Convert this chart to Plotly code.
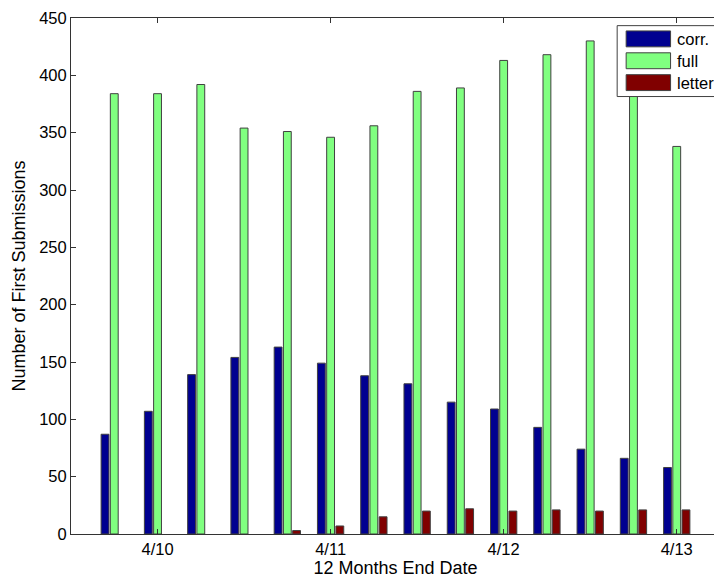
import plotly.graph_objects as go

groups = list(range(1, 15))
corr = [87, 107, 139, 154, 163, 149, 138, 131, 115, 109, 93, 74, 66, 58]
full = [384, 384, 392, 354, 351, 346, 356, 386, 389, 413, 418, 430, 395, 338]
letter = [None, None, None, None, 3, 7, 15, 20, 22, 20, 21, 20, 21, 21]
tick_pos = [2, 6, 10, 14]
tick_labels = ["4/10", "4/11", "4/12", "4/13"]
y_ticks = list(range(0, 451, 50))
series_names = ["corr.", "full", "letter"]
series_colors = ["#000090", "#80FF80", "#800000"]
series_values = [corr, full, letter]

# figure geometry (page has an 8px body margin)
W, H = 714, 575
L, R, T, B = 63, 1, 7, 49
PW, PH = W - L - R, H - T - B
OFF = 8


def px_x(sx):
    return (sx - OFF - L) / PW


def px_y(sy):
    return (H - B - (sy - OFF)) / PH


FAM = "Arial"
TXT = 15
TICK = 16.5
LEG = 16.5
font = dict(family=FAM, size=TXT, color="#000000")

fig = go.Figure()
for name, vals, col in zip(series_names, series_values, series_colors):
    fig.add_trace(go.Bar(x=groups, y=vals, name=name, showlegend=False,
                         marker=dict(color=col, line=dict(color="#404040", width=1))))

shapes = []
annotations = []
# legend box
shapes.append(dict(type="rect", xref="paper", yref="paper", x0=px_x(618), x1=px_x(721.5),
                   y0=px_y(94), y1=px_y(22.7), line=dict(color="#404040", width=1), fillcolor="white",
                   layer="above"))
patch_rows = [(28, 44), (50, 66), (72, 88)]
for (y0, y1), name, col in zip(patch_rows, series_names, series_colors):
    shapes.append(dict(type="rect", xref="paper", yref="paper", x0=px_x(627), x1=px_x(671.5),
                       y0=px_y(y1), y1=px_y(y0), line=dict(color="#404040", width=1), fillcolor=col,
                       layer="above"))
    annotations.append(dict(xref="paper", yref="paper", x=px_x(675.5), y=px_y((y0 + y1) / 2),
                            text=name, showarrow=False, xanchor="left", yanchor="middle",
                            font=dict(family=FAM, size=LEG, color="#000000")))

fig.update_layout(
    width=W, height=H,
    margin=dict(l=L, r=R, t=T, b=B),
    paper_bgcolor="white", plot_bgcolor="white",
    barmode="group", bargap=0.36, bargroupgap=0.15,
    font=font, showlegend=False,
    shapes=shapes, annotations=annotations,
    xaxis=dict(range=[0, 15], tickmode="array", tickvals=tick_pos, ticktext=tick_labels,
               showline=True, linecolor="#333333", mirror="ticks", ticks="inside", ticklen=5,
               tickcolor="#333333", showgrid=False, zeroline=False,
               title=dict(text="12 Months End Date", standoff=4),
               tickfont=dict(size=TICK)),
    yaxis=dict(range=[0, 450], tickvals=y_ticks, showline=True, linecolor="#333333", mirror="ticks",
               ticks="inside", ticklen=5, tickcolor="#333333", showgrid=False, zeroline=False,
               ticklabeloverflow="allow",
               title=dict(text="Number of First Submissions", standoff=8),
               tickfont=dict(size=TICK)),
)
fig.write_html("out.html")
